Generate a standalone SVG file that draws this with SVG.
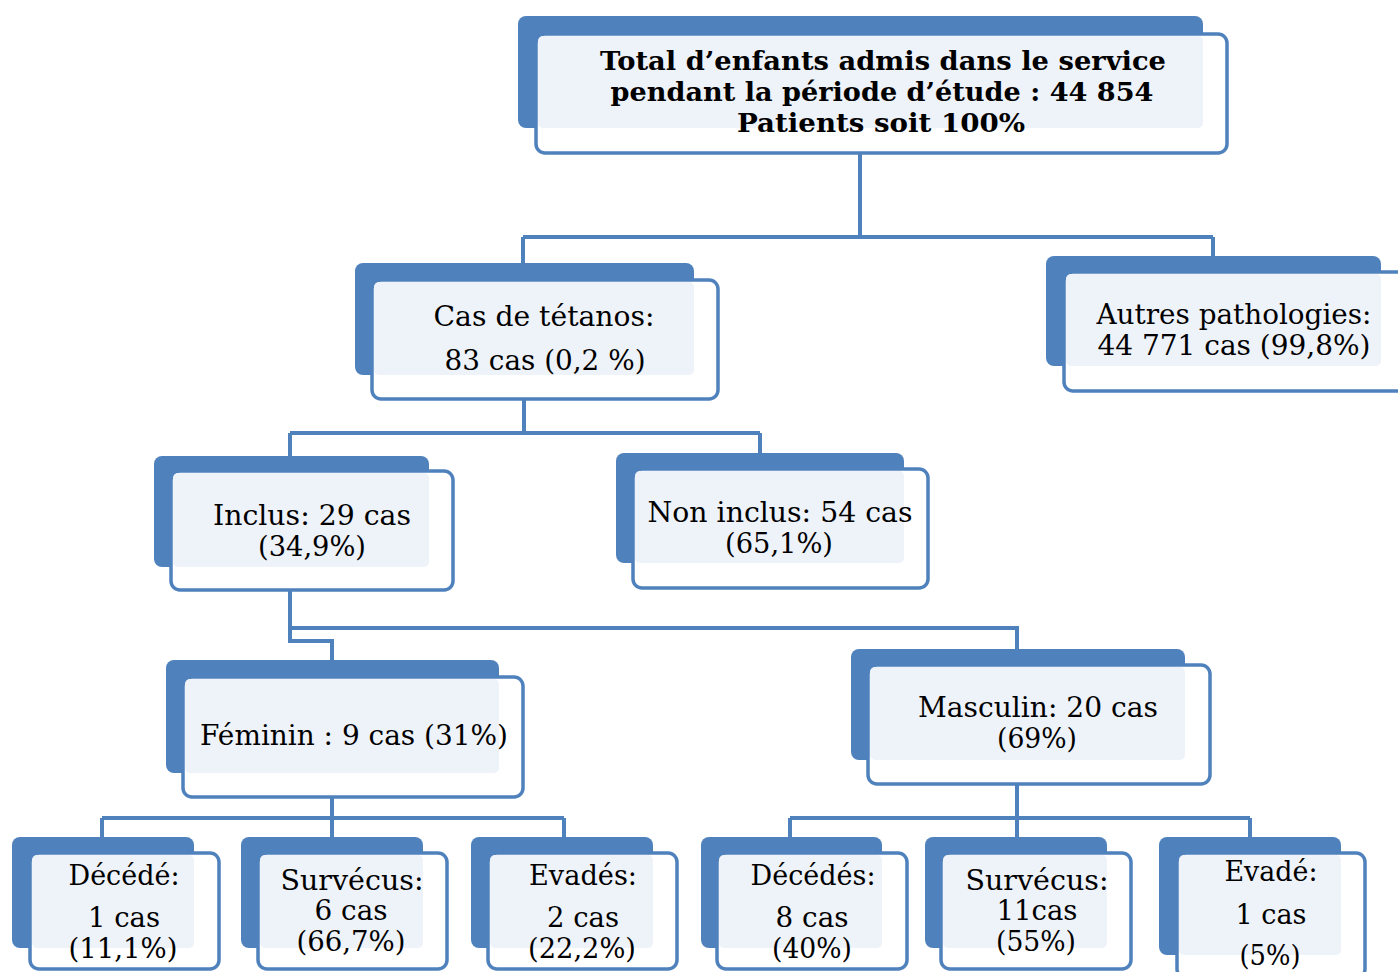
<svg xmlns="http://www.w3.org/2000/svg" width="1398" height="972" viewBox="0 0 1398 972">
<style>
.bk{fill:#4f81bd}
.fr{fill:#ffffff;stroke:#4f81bd;stroke-width:3.5}
.lt{fill:#eef2f9}
.t{font-family:"DejaVu Serif","Liberation Serif",serif;font-size:27px;fill:#000;text-anchor:middle}
.b{font-weight:bold;font-size:26px}
.c{fill:none;stroke:#4f81bd;stroke-width:4}
</style>
<rect width="1398" height="972" fill="#ffffff"/>
<g id="connectors">
<path class="c" d="M860,153 V237 M523,237 H1213 M523,237 V263 M1213,237 V256"/>
<path class="c" d="M524,399 V433 M290,433 H760 M290,433 V456 M760,433 V453"/>
<path class="c" d="M290,590 V641 H332 V660 M290,628 H1017 V649"/>
<path class="c" d="M332,797 V818 M102,818 H564 M102,818 V837 M332,818 V837 M564,818 V837"/>
<path class="c" d="M1017,784 V818 M790,818 H1250 M790,818 V837 M1017,818 V837 M1250,818 V837"/>
</g>
<g id="n-total">
<rect class="bk" x="518" y="16" width="685" height="112" rx="8"/>
<rect class="fr" x="536" y="34" width="691" height="119" rx="9"/>
<rect class="lt" x="538" y="36" width="665" height="92" rx="5"/>
<text class="t b" x="883" y="70" textLength="566" lengthAdjust="spacingAndGlyphs">Total d’enfants admis dans le service</text>
<text class="t b" x="882" y="101" textLength="543" lengthAdjust="spacingAndGlyphs">pendant la période d’étude : 44 854</text>
<text class="t b" x="881" y="132" textLength="288" lengthAdjust="spacingAndGlyphs">Patients soit 100%</text>
</g>
<g id="n-tetanos">
<rect class="bk" x="355" y="263" width="339" height="112" rx="8"/>
<rect class="fr" x="372" y="280" width="346" height="119" rx="9"/>
<rect class="lt" x="374" y="282" width="320" height="93" rx="5"/>
<text class="t" x="544" y="326" textLength="221" lengthAdjust="spacingAndGlyphs">Cas de tétanos:</text>
<text class="t" x="545" y="370" textLength="201" lengthAdjust="spacingAndGlyphs">83 cas (0,2 %)</text>
</g>
<g id="n-autres">
<rect class="bk" x="1046" y="256" width="335" height="110" rx="8"/>
<rect class="fr" x="1064" y="272" width="345" height="119" rx="9"/>
<rect class="lt" x="1066" y="274" width="315" height="92" rx="5"/>
<text class="t" x="1234" y="324" textLength="275" lengthAdjust="spacingAndGlyphs">Autres pathologies:</text>
<text class="t" x="1234" y="355" textLength="273" lengthAdjust="spacingAndGlyphs">44 771 cas (99,8%)</text>
</g>
<g id="n-inclus">
<rect class="bk" x="154" y="456" width="275" height="111" rx="8"/>
<rect class="fr" x="171" y="471" width="282" height="119" rx="9"/>
<rect class="lt" x="173" y="473" width="256" height="94" rx="5"/>
<text class="t" x="312" y="525" textLength="198" lengthAdjust="spacingAndGlyphs">Inclus: 29 cas</text>
<text class="t" x="312" y="556" textLength="108" lengthAdjust="spacingAndGlyphs">(34,9%)</text>
</g>
<g id="n-noninclus">
<rect class="bk" x="616" y="453" width="288" height="110" rx="8"/>
<rect class="fr" x="633" y="469" width="295" height="119" rx="9"/>
<rect class="lt" x="635" y="471" width="269" height="92" rx="5"/>
<text class="t" x="780" y="522" textLength="265" lengthAdjust="spacingAndGlyphs">Non inclus: 54 cas</text>
<text class="t" x="779" y="553" textLength="108" lengthAdjust="spacingAndGlyphs">(65,1%)</text>
</g>
<g id="n-feminin">
<rect class="bk" x="166" y="660" width="333" height="113" rx="8"/>
<rect class="fr" x="183" y="677" width="340" height="120" rx="9"/>
<rect class="lt" x="185" y="679" width="314" height="94" rx="5"/>
<text class="t" x="354" y="745" textLength="308" lengthAdjust="spacingAndGlyphs">Féminin : 9 cas (31%)</text>
</g>
<g id="n-masculin">
<rect class="bk" x="851" y="649" width="334" height="111" rx="8"/>
<rect class="fr" x="868" y="665" width="342" height="119" rx="9"/>
<rect class="lt" x="870" y="667" width="315" height="93" rx="5"/>
<text class="t" x="1038" y="717" textLength="240" lengthAdjust="spacingAndGlyphs">Masculin: 20 cas</text>
<text class="t" x="1037" y="748" textLength="80" lengthAdjust="spacingAndGlyphs">(69%)</text>
</g>
<g id="n-f-decede">
<rect class="bk" x="12" y="837" width="182" height="111" rx="8"/>
<rect class="fr" x="30" y="853" width="189" height="116" rx="9"/>
<rect class="lt" x="32" y="855" width="162" height="93" rx="5"/>
<text class="t" x="124" y="885" textLength="111" lengthAdjust="spacingAndGlyphs">Décédé:</text>
<text class="t" x="124" y="927" textLength="72" lengthAdjust="spacingAndGlyphs">1 cas</text>
<text class="t" x="123" y="958" textLength="109" lengthAdjust="spacingAndGlyphs">(11,1%)</text>
</g>
<g id="n-f-survecus">
<rect class="bk" x="241" y="837" width="182" height="111" rx="8"/>
<rect class="fr" x="258" y="853" width="189" height="116" rx="9"/>
<rect class="lt" x="260" y="855" width="163" height="93" rx="5"/>
<text class="t" x="352" y="890" textLength="143" lengthAdjust="spacingAndGlyphs">Survécus:</text>
<text class="t" x="351" y="920" textLength="73" lengthAdjust="spacingAndGlyphs">6 cas</text>
<text class="t" x="351" y="951" textLength="109" lengthAdjust="spacingAndGlyphs">(66,7%)</text>
</g>
<g id="n-f-evades">
<rect class="bk" x="471" y="837" width="182" height="111" rx="8"/>
<rect class="fr" x="488" y="853" width="189" height="116" rx="9"/>
<rect class="lt" x="490" y="855" width="163" height="93" rx="5"/>
<text class="t" x="583" y="885" textLength="108" lengthAdjust="spacingAndGlyphs">Evadés:</text>
<text class="t" x="583" y="927" textLength="72" lengthAdjust="spacingAndGlyphs">2 cas</text>
<text class="t" x="582" y="958" textLength="108" lengthAdjust="spacingAndGlyphs">(22,2%)</text>
</g>
<g id="n-m-decedes">
<rect class="bk" x="701" y="837" width="181" height="111" rx="8"/>
<rect class="fr" x="717" y="853" width="190" height="116" rx="9"/>
<rect class="lt" x="719" y="855" width="163" height="93" rx="5"/>
<text class="t" x="813" y="885" textLength="125" lengthAdjust="spacingAndGlyphs">Décédés:</text>
<text class="t" x="812" y="927" textLength="73" lengthAdjust="spacingAndGlyphs">8 cas</text>
<text class="t" x="812" y="958" textLength="80" lengthAdjust="spacingAndGlyphs">(40%)</text>
</g>
<g id="n-m-survecus">
<rect class="bk" x="925" y="837" width="182" height="111" rx="8"/>
<rect class="fr" x="941" y="853" width="190" height="116" rx="9"/>
<rect class="lt" x="943" y="855" width="164" height="93" rx="5"/>
<text class="t" x="1037" y="890" textLength="143" lengthAdjust="spacingAndGlyphs">Survécus:</text>
<text class="t" x="1037" y="920" textLength="81" lengthAdjust="spacingAndGlyphs">11cas</text>
<text class="t" x="1036" y="951" textLength="80" lengthAdjust="spacingAndGlyphs">(55%)</text>
</g>
<g id="n-m-evade">
<rect class="bk" x="1159" y="837" width="182" height="118" rx="8"/>
<rect class="fr" x="1177" y="853" width="188" height="125" rx="9"/>
<rect class="lt" x="1179" y="855" width="162" height="100" rx="5"/>
<text class="t" x="1271" y="881" textLength="93" lengthAdjust="spacingAndGlyphs">Evadé:</text>
<text class="t" x="1271" y="924" textLength="71" lengthAdjust="spacingAndGlyphs">1 cas</text>
<text class="t" x="1270" y="965" textLength="61" lengthAdjust="spacingAndGlyphs">(5%)</text>
</g>
</svg>
